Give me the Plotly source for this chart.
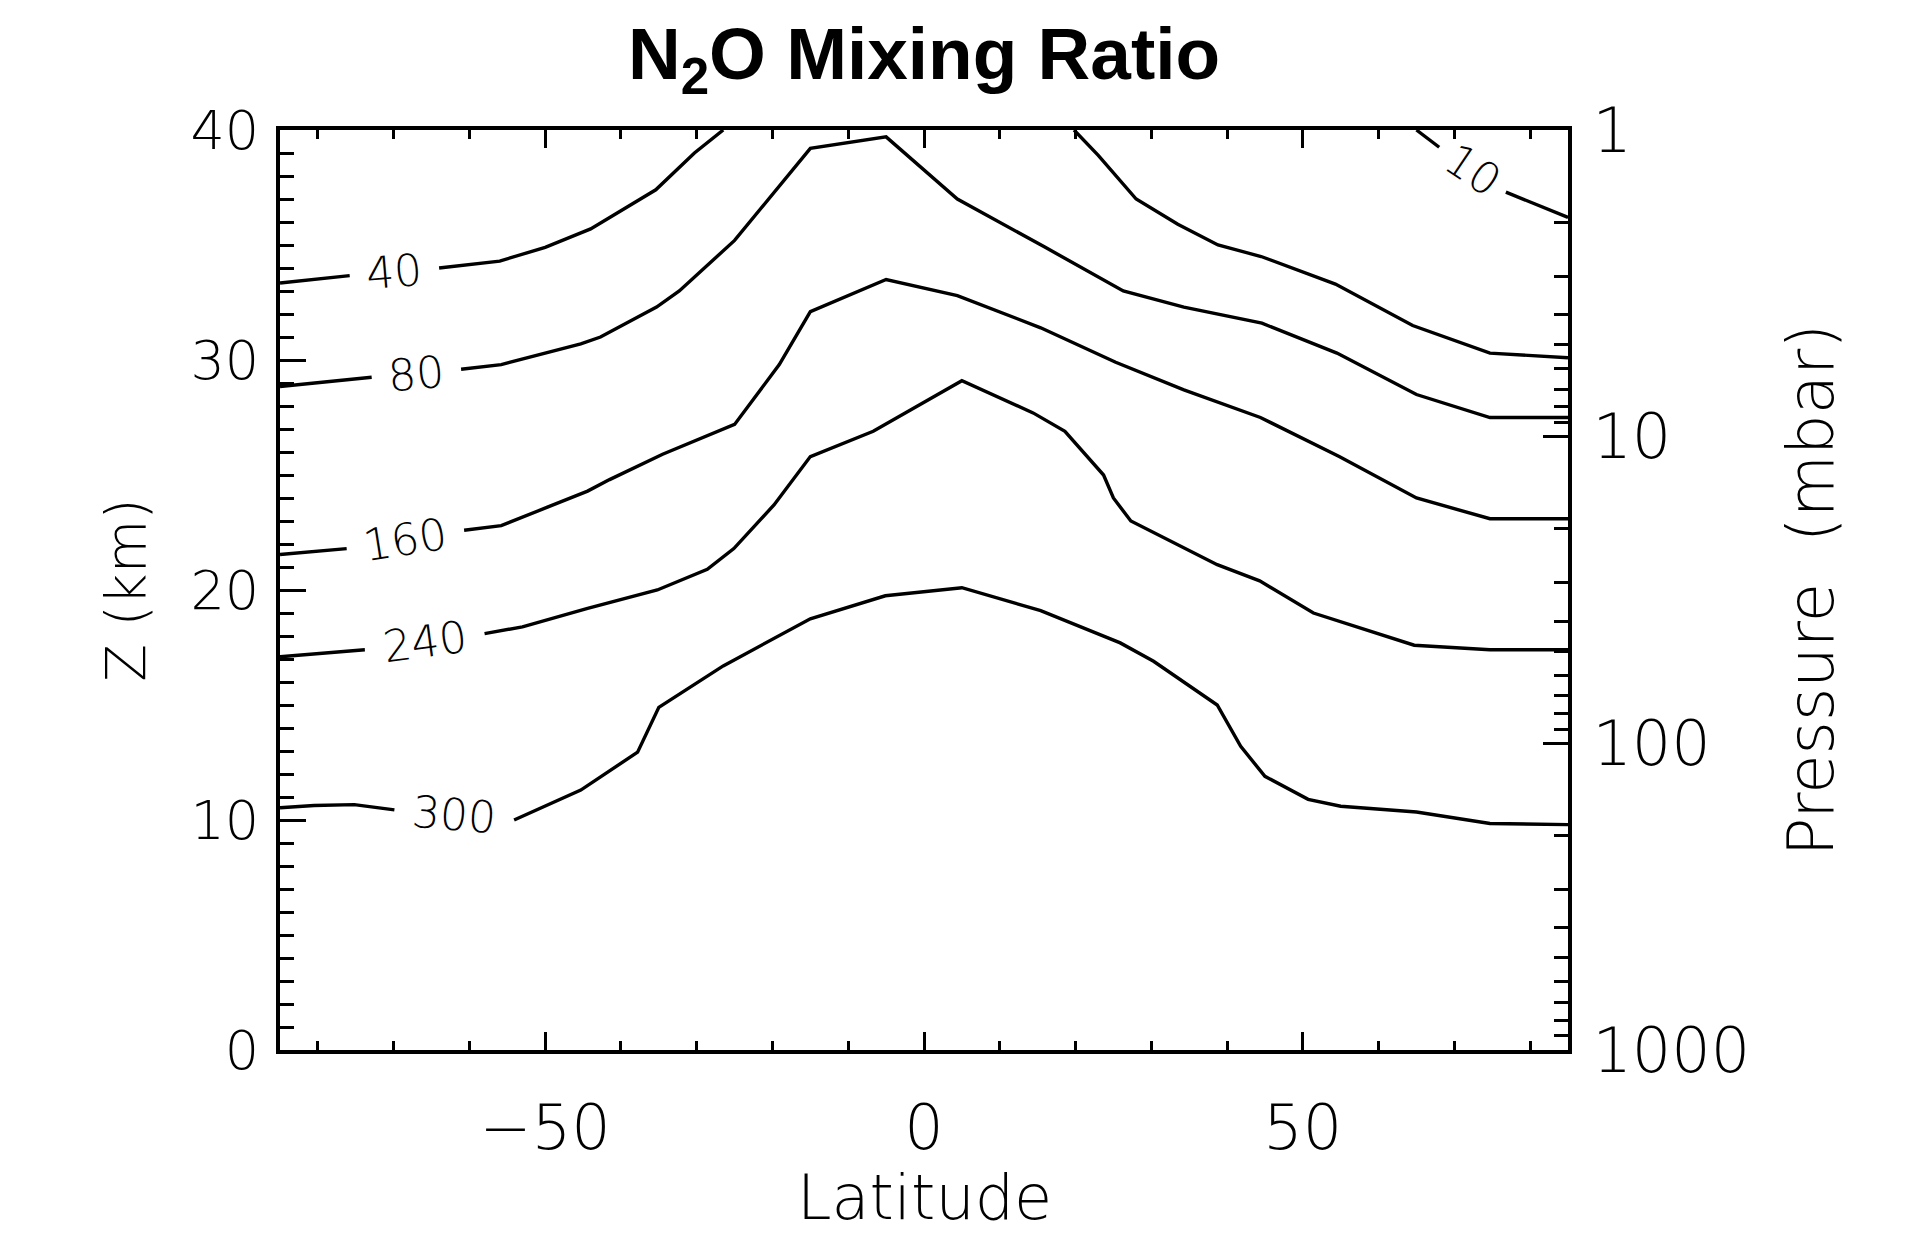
import math
import plotly.graph_objects as go

# ---------------- data ----------------
# Each contour: latitude (deg) and altitude Z (km). None separates pieces;
# the FIRST None of every contour is the gap where its label sits.
c10_lat = [65.0, 68.0, None, 76.8, 85.0]
c10_z = [40.0, 39.25, None, 37.3, 36.2]

c40_lat = [-85.0, -75.8, None, -64.0, -56.0, -50.0, -44.0, -35.4, -30.3, -26.5,
           None, 19.8, 23.0, 28.0, 33.5, 38.8, 44.5, 54.3, 64.5, 74.7, 85.0]
c40_z = [33.35, 33.67, None, 34.0, 34.3, 34.9, 35.7, 37.4, 39.0, 40.0,
         None, 40.0, 38.9, 37.0, 35.9, 35.0, 34.5, 33.3, 31.5, 30.3, 30.1]

c80_lat = [-85.0, -72.9, None, -61.1, -55.8, -45.3, -42.7, -35.3, -32.3, -25.0, -20.3,
           -15.0, -5.0, 4.4, 16.0, 26.3, 34.3, 44.6, 54.5, 65.0, 74.7, 85.0]
c80_z = [28.85, 29.25, None, 29.6, 29.8, 30.7, 31.0, 32.3, 33.0, 35.2, 37.1,
         39.2, 39.7, 37.0, 34.9, 33.0, 32.3, 31.6, 30.3, 28.5, 27.5, 27.5]

c160_lat = [-85.0, -76.2, None, -60.7, -55.8, -49.7, -44.4, -41.5, -34.5, -25.0, -19.1,
            -15.0, -5.0, 4.4, 15.4, 25.3, 34.3, 44.4, 54.8, 65.0, 74.7, 85.0]
c160_z = [21.54, 21.8, None, 22.6, 22.8, 23.6, 24.3, 24.8, 25.9, 27.2, 29.8,
          32.1, 33.5, 32.8, 31.4, 29.9, 28.7, 27.5, 25.8, 24.0, 23.1, 23.1]

c240_lat = [-85.0, -73.8, None, -58.0, -53.0, -44.4, -35.2, -28.6, -25.1, -19.8, -15.0,
            -6.7, 5.0, 14.4, 18.6, 23.7, 25.0, 27.3, 38.7, 44.3, 51.4, 64.7, 74.7, 85.0]
c240_z = [17.1, 17.4, None, 18.1, 18.4, 19.2, 20.0, 20.9, 21.8, 23.7, 25.8,
          26.9, 29.1, 27.7, 26.9, 25.0, 24.0, 23.0, 21.1, 20.4, 19.0, 17.6, 17.4, 17.4]

c300_lat = [-85.0, -80.5, -75.2, -69.9, None, -54.1, -45.3, -37.8, -35.0, -26.5, -15.0,
            -5.1, 5.0, 15.4, 25.9, 30.3, 38.7, 41.8, 45.0, 50.7, 55.0, 65.0, 74.7, 85.0]
c300_z = [10.53, 10.63, 10.67, 10.44, None, 10.0, 11.3, 12.95, 14.9, 16.7, 18.75,
          19.75, 20.1, 19.1, 17.7, 16.9, 15.0, 13.2, 11.9, 10.9, 10.6, 10.35, 9.85, 9.8]

levels = ["10", "40", "80", "160", "240", "300"]
contour_lats = [c10_lat, c40_lat, c80_lat, c160_lat, c240_lat, c300_lat]
contour_zs = [c10_z, c40_z, c80_z, c160_z, c240_z, c300_z]

lat_ticks = [-50, 0, 50]
z_ticks = [0, 10, 20, 30, 40]
p_ticks = [1, 10, 100, 1000]

# ---------------- layout constants ----------------
W, H = 1918, 1236
ML, MR, MT, MB = 280, 350, 130, 186
PW, PH = W - ML - MR, H - MT - MB
LAT_RANGE = [-85, 85]
Z_RANGE = [0, 40]
THIN = "'DejaVu Sans', Verdana, sans-serif"
BOLD = "'Liberation Sans', Arial, Helvetica, sans-serif"
FW = 200

fig = go.Figure()
for lat, z in zip(contour_lats, contour_zs):
    fig.add_trace(go.Scatter(x=lat, y=z, mode="lines", connectgaps=False,
                             line=dict(color="black", width=3.4),
                             showlegend=False, hoverinfo="skip"))

# invisible helper so the pressure axis (yaxis2) is drawn
fig.add_trace(go.Scatter(x=[lat_ticks[1]] * len(p_ticks), y=p_ticks, yaxis="y2",
                         mode="markers", marker=dict(opacity=0),
                         showlegend=False, hoverinfo="skip"))

# contour labels, centred in the first gap and aligned with it
px_lat = PW / (LAT_RANGE[1] - LAT_RANGE[0])
px_z = PH / (Z_RANGE[1] - Z_RANGE[0])
for lev, lat, z in zip(levels, contour_lats, contour_zs):
    g = lat.index(None)
    la, lb, za, zb = lat[g - 1], lat[g + 1], z[g - 1], z[g + 1]
    ang = -math.degrees(math.atan2((zb - za) * px_z, (lb - la) * px_lat))
    fig.add_annotation(x=(la + lb) / 2, y=(za + zb) / 2, xref="x", yref="y",
                       text=lev, showarrow=False, textangle=ang,
                       font=dict(family=THIN, size=44, color="black", weight=FW))

# x-axis title (placed as an annotation so it can sit lower than plotly allows)
fig.add_annotation(x=0.5, y=0, xref="paper", yref="paper", xanchor="center",
                   yanchor="bottom", yshift=-MB, text="Latitude", showarrow=False,
                   font=dict(family=THIN, size=62, color="black", weight=FW))

axis_common = dict(showgrid=False, zeroline=False, showline=True,
                   linecolor="black", linewidth=4, ticks="inside",
                   tickcolor="black", tickwidth=3)

fig.update_layout(
    width=W, height=H,
    margin=dict(l=ML, r=MR, t=MT, b=MB, autoexpand=False),
    paper_bgcolor="white", plot_bgcolor="white",
    title=dict(text="<b>N<sub>2</sub>O Mixing Ratio</b>", x=0.5, xref="paper",
               xanchor="center", y=1 - 53 / H, yref="container", yanchor="middle",
               font=dict(family=BOLD, size=73, color="black")),
    xaxis=dict(range=LAT_RANGE, tickvals=lat_ticks, ticklen=18, mirror="ticks",
               tickfont=dict(family=THIN, size=62, color="black", weight=FW),
               ticklabelstandoff=21,
               minor=dict(tickmode="linear", tick0=0, dtick=10, ticks="inside",
                          ticklen=9, tickwidth=3, tickcolor="black"),
               **axis_common),
    yaxis=dict(range=Z_RANGE, tickvals=z_ticks, ticklen=26, mirror=False,
               tickfont=dict(family=THIN, size=54, color="black", weight=FW),
               ticklabelstandoff=6,
               minor=dict(tickmode="linear", tick0=0, dtick=1, ticks="inside",
                          ticklen=14, tickwidth=3, tickcolor="black"),
               title=dict(text="Z (km)", standoff=28,
                          font=dict(family=THIN, size=55, color="black", weight=FW)),
               **axis_common),
    yaxis2=dict(type="log", range=[3, 0], overlaying="y", side="right", anchor="x",
                tickvals=p_ticks, ticktext=[str(p) for p in p_ticks], ticklen=25,
                tickfont=dict(family=THIN, size=62, color="black", weight=FW),
                ticklabelstandoff=8,
                minor=dict(dtick="D1", ticks="inside", ticklen=14, tickwidth=3,
                           tickcolor="black"),
                title=dict(text="Pressure\u00a0 (mbar)", standoff=40,
                           font=dict(family=THIN, size=64, color="black", weight=FW)),
                showgrid=False, zeroline=False, showline=True, linecolor="black",
                linewidth=4, ticks="inside", tickcolor="black", tickwidth=3),
)

fig.write_html("out.html", config={"displayModeBar": False},
               post_script="document.body.style.margin='0';")
